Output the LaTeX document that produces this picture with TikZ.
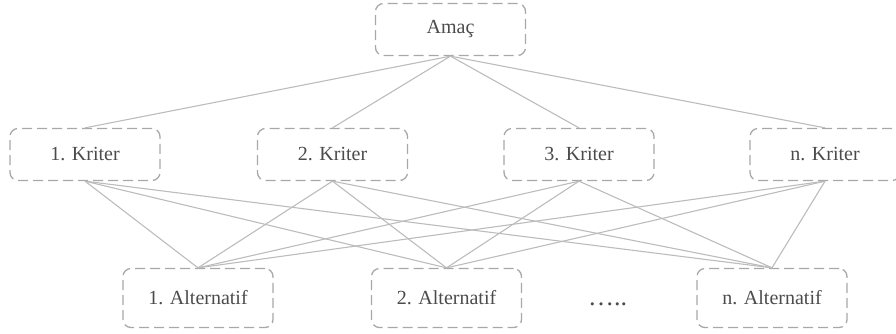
\documentclass[tikz,border=0pt]{standalone}
\usepackage{fontspec}
\setmainfont{Liberation Serif}
\usepackage{tikz}

\definecolor{boxGray}{RGB}{168,168,168}
\definecolor{lineGray}{RGB}{188,188,188}
\definecolor{textGray}{RGB}{75,75,75}

\begin{document}
\begin{tikzpicture}[x=1pt,y=-1pt,%%
  boxStyle/.style={draw=boxGray,line width=1.3pt,dash pattern=on 10pt off 5pt,%%
    rounded corners=8pt,minimum width=150pt,minimum height=52pt,%%
    text=textGray,font=\fontsize{20}{24}\selectfont},%%
  lineStyle/.style={-,draw=lineGray,line width=1.1pt}%%
]
%%
%%
\pgfmathsetmacro{\ytop}{29.5}
\pgfmathsetmacro{\ymid}{154.5}
\pgfmathsetmacro{\ylow}{298}
%%
\useasboundingbox (0,0) rectangle (896,333);
%%
%% Draw the goal.
\node[boxStyle] (amac) at (450.5,\ytop) {Amaç};
%% Draw the criteria.
\node[boxStyle] (k1) at (85,\ymid) {1. Kriter};
\node[boxStyle] (k2) at (332.5,\ymid) {2. Kriter};
\node[boxStyle] (k3) at (579,\ymid) {3. Kriter};
\node[boxStyle] (kn) at (825,\ymid) {n. Kriter};
%% Draw the alternatives.
\node[boxStyle,minimum height=59pt] (a1) at (198,\ylow) {1. Alternatif};
\node[boxStyle,minimum height=59pt] (a2) at (446.5,\ylow) {2. Alternatif};
\node[boxStyle,minimum height=59pt] (an) at (772,\ylow) {n. Alternatif};
\node[text=textGray,font=\fontsize{26}{30}\selectfont,anchor=base] (dots) at (607.5,305) {…..};
%%
%% Goal to criteria.
\foreach \k in {k1,k2,k3,kn}
  \draw[lineStyle] (amac.south) -- (\k.north);
%% Criteria to alternatives.
\foreach \k in {k1,k2,k3,kn}
  \foreach \a in {a1,a2,an}
    \draw[lineStyle] (\k.south) -- (\a.north);
\end{tikzpicture}
\end{document}
